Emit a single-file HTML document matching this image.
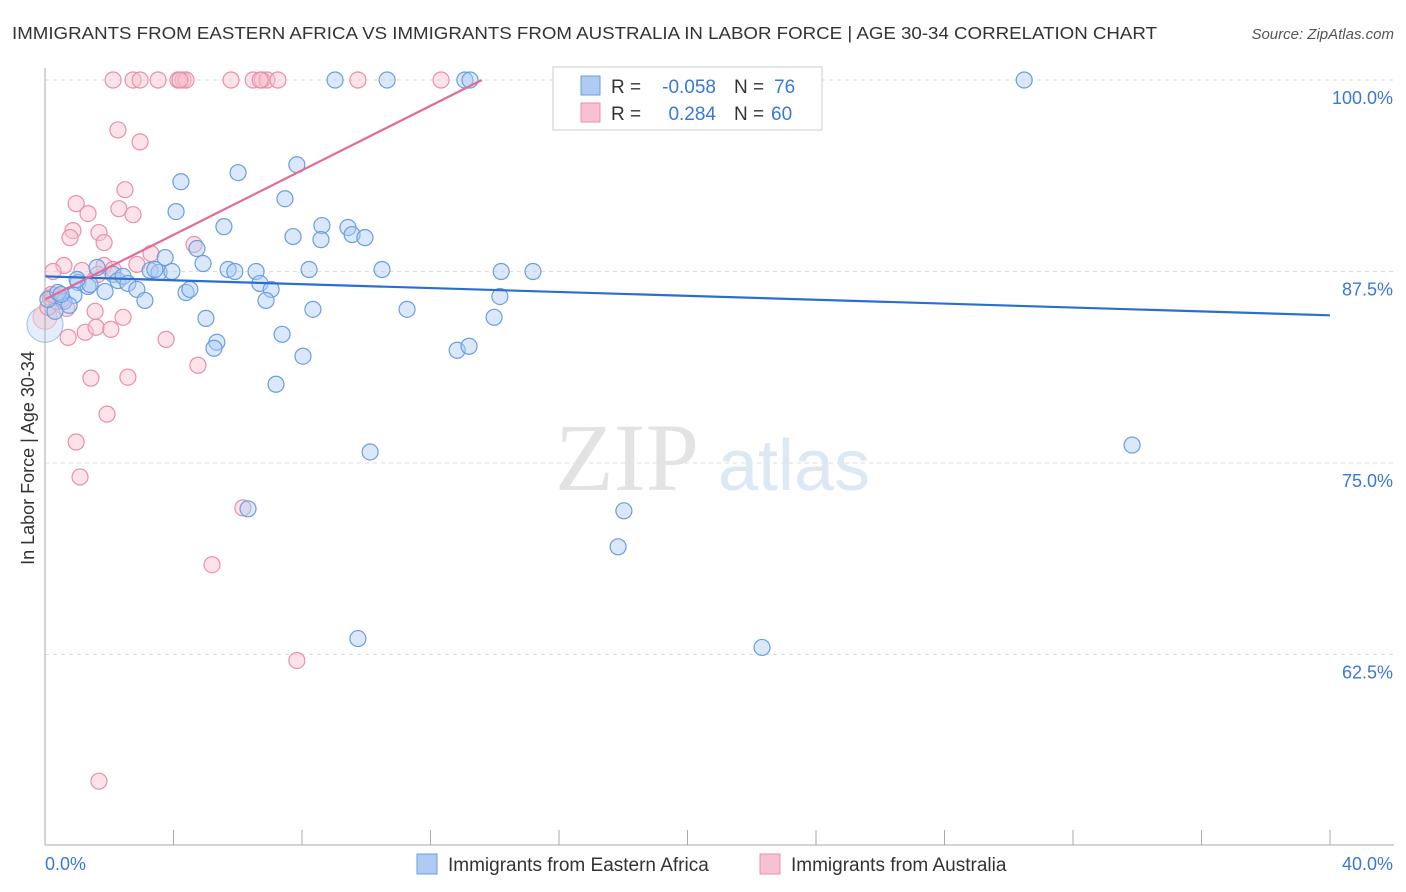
<!DOCTYPE html>
<html><head><meta charset="utf-8"><style>
body{margin:0;background:#fff;font-family:"Liberation Sans",sans-serif;}
svg{display:block}
</style></head><body>
<svg id="chart" width="1406" height="892" xmlns="http://www.w3.org/2000/svg">
<text x="12" y="39" font-size="17.5" fill="#333" textLength="1145" lengthAdjust="spacingAndGlyphs">IMMIGRANTS FROM EASTERN AFRICA VS IMMIGRANTS FROM AUSTRALIA IN LABOR FORCE | AGE 30-34 CORRELATION CHART</text>
<text x="1394" y="39" font-size="15" fill="#555" text-anchor="end" font-style="italic">Source: ZipAtlas.com</text>
<g id="grid"></g>
<text x="555" y="490" font-size="96" fill="#e3e3e3" font-family="Liberation Serif">ZIP</text>
<text x="718" y="490" font-size="72" fill="#dde8f5">atlas</text>
<g id="pts"></g>
<g id="axes"></g>
<text transform="translate(34,458) rotate(-90)" font-size="18" fill="#333" text-anchor="middle">In Labor Force | Age 30-34</text>
<g>
<rect x="553" y="67" width="269" height="63" fill="#fff" stroke="#ccc"/>
<rect x="581" y="76" width="19" height="19" fill="#aecbf3" stroke="#6a9ee0"/>
<rect x="581" y="103" width="19" height="19" fill="#f8c0d0" stroke="#e890a8"/>
<text x="611" y="93" font-size="19" fill="#333">R =</text>
<text x="716" y="93" font-size="19" fill="#3a78d8" text-anchor="end">-0.058</text>
<text x="734" y="93" font-size="19" fill="#333">N =</text>
<text x="774" y="93" font-size="19" fill="#3a78d8">76</text>
<text x="611" y="120" font-size="19" fill="#333">R =</text>
<text x="716" y="120" font-size="19" fill="#3a78d8" text-anchor="end">0.284</text>
<text x="734" y="120" font-size="19" fill="#333">N =</text>
<text x="771" y="120" font-size="19" fill="#3a78d8">60</text>
</g>
<g>
<rect x="417" y="854" width="20" height="20" fill="#aecbf3" stroke="#6a9ee0"/>
<text x="448" y="871" font-size="19" fill="#333">Immigrants from Eastern Africa</text>
<rect x="760" y="854" width="20" height="20" fill="#f8c0d0" stroke="#e890a8"/>
<text x="791" y="871" font-size="19" fill="#333">Immigrants from Australia</text>
</g>
</svg>
<script>
const blueX=[16.53,9.03,10.65,13.07,13.23,23.19,30.48,7.84,4.23,6.01,7.47,4.08,5.57,8.62,9.43,9.56,9.96,7.72,8.59,4.73,4.92,3.74,3.27,1.62,2.12,2.27,1.03,1.34,1.40,1.87,0.90,0.59,0.75,0.31,0.09,0.40,2.43,2.58,2.86,3.11,3.55,3.42,3.95,4.39,4.51,5.70,5.91,6.57,6.69,7.04,6.88,8.22,10.49,14.20,15.19,14.16,8.34,11.27,13.98,5.01,5.35,5.26,7.38,8.03,12.83,13.20,7.19,10.12,6.32,18.02,17.84,33.84,9.74,22.32,0.5,1.0];
const blueY=[100,100,100,100,100,100,100,94.47,93.36,93.95,92.25,91.41,90.43,90.50,90.37,89.91,89.71,89.78,89.58,89.00,88.02,88.41,87.57,87.76,87.31,86.91,86.78,86.52,86.65,86.20,85.94,85.55,85.29,84.90,85.68,86.13,87.18,86.72,86.33,85.61,87.44,87.63,87.50,86.13,86.33,87.63,87.50,87.50,86.72,86.33,85.61,87.63,87.63,87.50,87.50,85.87,85.03,85.03,84.51,84.44,82.88,82.49,83.40,81.97,82.36,82.62,80.14,75.72,72.01,71.88,69.53,76.17,63.54,62.96,86.0,86.98];
const pinkX=[2.12,2.74,2.96,3.52,4.14,4.30,4.39,5.79,6.48,6.76,6.91,7.25,9.74,12.33,2.27,2.96,2.49,0.97,1.34,2.30,2.74,0.87,1.68,0.78,1.84,3.30,4.64,2.86,1.84,0.59,0.25,1.15,1.65,2.12,0.16,0.09,0.37,0.68,1.56,2.43,0.72,1.25,1.59,2.05,3.77,4.76,1.43,2.58,1.93,0.97,1.09,6.16,5.20,7.84,1.68,0.53,0.31,4.20,6.70,0.20];
const pinkY=[100,100,100,100,100,100,100,100,100,100,100,100,100,100,96.74,95.96,92.84,91.93,91.28,91.60,91.21,90.17,90.04,89.71,89.39,88.67,89.26,87.96,87.89,87.89,87.50,87.57,87.31,87.63,85.81,85.16,85.55,85.09,84.90,84.51,83.20,83.53,83.86,83.72,83.07,81.38,80.54,80.60,78.19,76.37,74.09,72.07,68.36,62.11,54.23,85.68,85.94,100,100,86.0];
const blueTrendX=[0,40];const blueTrendY=[87.18,84.64];
const pinkTrendX=[0,13.6];const pinkTrendY=[85.68,100];
const yTicks=[100,87.5,75,62.5];const yTickLabels=["100.0%","87.5%","75.0%","62.5%"];
const xTickLabels=["0.0%","40.0%"];
const NS="http://www.w3.org/2000/svg";
const sx=v=>45+v/40*1285;
const sy=v=>80+(100-v)/12.5*191.5;
function mk(t,a,p){const e=document.createElementNS(NS,t);for(const k in a)e.setAttribute(k,a[k]);p.appendChild(e);return e;}
const grid=document.getElementById('grid'),axes=document.getElementById('axes'),pts=document.getElementById('pts');
yTicks.forEach((t,i)=>{
 const l=mk('line',{x1:45,x2:1394,y1:sy(t),y2:sy(t),stroke:'#ddd','stroke-dasharray':'4,4'},grid);
 
 
 const tx=mk('text',{x:1393,y:sy(t)+24,'font-size':18,fill:'#3a78d8','text-anchor':'end'},axes);
 tx.textContent=yTickLabels[i];
 
 
});
mk('line',{x1:45,x2:45,y1:68,y2:845,stroke:'#aaa'},axes);
mk('line',{x1:45,x2:1394,y1:845,y2:845,stroke:'#aaa'},axes);
for(let i=0;i<=10;i++){const t=mk('line',{x1:sx(i*4),x2:sx(i*4),y1:830,y2:845,stroke:'#aaa'},axes);
 
 }
const x0=mk('text',{x:45,y:870,'font-size':18,fill:'#3a78d8'},axes);x0.textContent=xTickLabels[0];

const x1=mk('text',{x:1393,y:870,'font-size':18,fill:'#3a78d8','text-anchor':'end'},axes);x1.textContent=xTickLabels[1];

mk('circle',{cx:sx(0),cy:sy(84.05),r:18,fill:'rgba(174,203,243,0.35)',stroke:'#9bbce8'},pts);
mk('circle',{cx:sx(0),cy:sy(84.51),r:12,fill:'rgba(248,192,208,0.4)',stroke:'#eeb0c2'},pts);
pinkX.forEach((x,i)=>{const c=mk('circle',{cx:sx(x),cy:sy(pinkY[i]),r:8,fill:'rgba(248,192,208,0.45)',stroke:'#e890a8','stroke-width':1.2},pts);
 
 });
blueX.forEach((x,i)=>{const c=mk('circle',{cx:sx(x),cy:sy(blueY[i]),r:8,fill:'rgba(174,203,243,0.45)',stroke:'#6a9ee0','stroke-width':1.2},pts);
 
 });
const bl=mk('line',{x1:sx(blueTrendX[0]),y1:sy(blueTrendY[0]),x2:sx(blueTrendX[1]),y2:sy(blueTrendY[1]),stroke:'#2a6fd0','stroke-width':2.2},pts);


const pl=mk('line',{x1:sx(pinkTrendX[0]),y1:sy(pinkTrendY[0]),x2:sx(pinkTrendX[1]),y2:sy(pinkTrendY[1]),stroke:'#e26a94','stroke-width':2.2},pts);


</script>
</body></html>
